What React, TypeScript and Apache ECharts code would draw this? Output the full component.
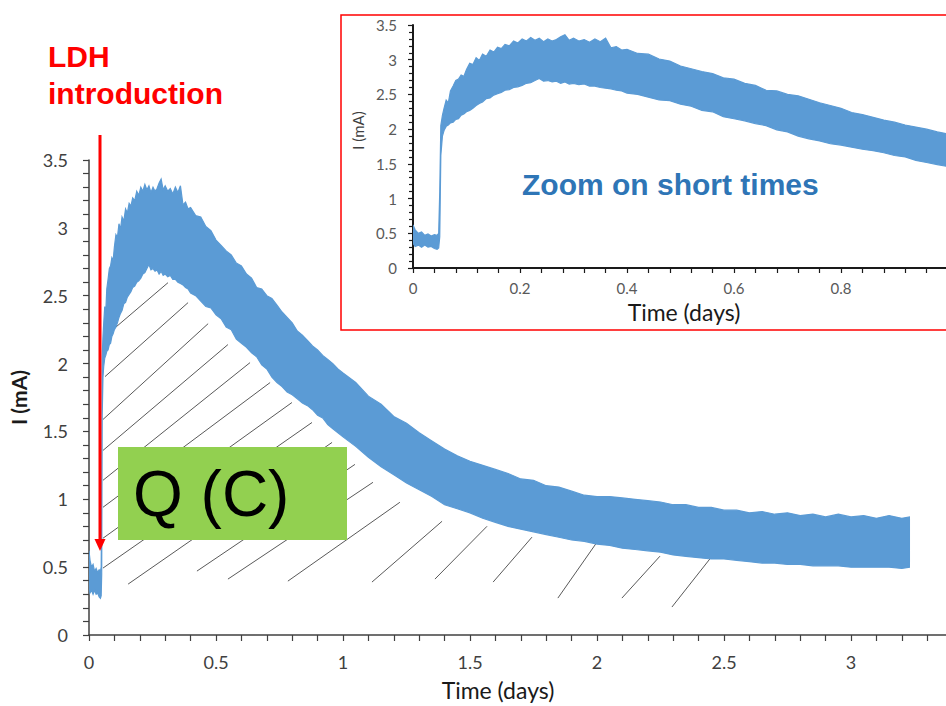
import React, { useEffect, useRef } from "react";
import * as echarts from "echarts";

// Time (days) samples shared by the upper and lower envelope of the noisy current band
const timeDays = [
  0, 0.004, 0.01, 0.016, 0.022, 0.028, 0.034, 0.04, 0.045, 0.048, 0.05, 0.052, 0.055, 0.058,
  0.062, 0.066, 0.07, 0.075, 0.08, 0.085, 0.09, 0.095, 0.1, 0.106, 0.112, 0.118, 0.124, 0.13,
  0.137, 0.144, 0.151, 0.158, 0.165, 0.172, 0.18, 0.188, 0.196, 0.204, 0.212, 0.22, 0.228,
  0.236, 0.244, 0.252, 0.26, 0.268, 0.276, 0.284, 0.292, 0.3, 0.31, 0.32, 0.33, 0.34, 0.35,
  0.36, 0.37, 0.38, 0.39, 0.4, 0.42, 0.44, 0.46, 0.48, 0.5, 0.52, 0.54, 0.56, 0.58, 0.6,
  0.62, 0.64, 0.66, 0.68, 0.7, 0.72, 0.74, 0.76, 0.78, 0.8, 0.82, 0.84, 0.86, 0.88, 0.9,
  0.92, 0.94, 0.96, 0.98, 1.0, 1.05, 1.1, 1.15, 1.2, 1.25, 1.3, 1.35, 1.4, 1.45, 1.5, 1.55,
  1.6, 1.65, 1.7, 1.75, 1.8, 1.85, 1.9, 1.95, 2.0, 2.05, 2.1, 2.15, 2.2, 2.25, 2.3, 2.35,
  2.4, 2.45, 2.5, 2.55, 2.6, 2.65, 2.7, 2.75, 2.8, 2.85, 2.9, 2.95, 3.0, 3.05, 3.1, 3.15,
  3.2, 3.23,
];

// Upper edge of the current band I (mA)
const currentUpper = [
  0.62, 0.55, 0.5, 0.52, 0.47, 0.49, 0.46, 0.48, 0.47, 0.5, 1.1, 2.05, 2.2, 2.3,
  2.42, 2.38, 2.55, 2.62, 2.7, 2.72, 2.78, 2.76, 2.86, 2.95, 2.93, 3.03, 2.99, 3.08,
  3.05, 3.14, 3.11, 3.18, 3.16, 3.22, 3.2, 3.27, 3.24, 3.3, 3.27, 3.32, 3.28,
  3.31, 3.26, 3.3, 3.27, 3.29, 3.33, 3.36, 3.28, 3.31, 3.27, 3.29, 3.25, 3.3, 3.26,
  3.31, 3.17, 3.19, 3.14, 3.15, 3.09, 3.08, 3.01, 2.98, 2.91, 2.87, 2.83, 2.8, 2.74, 2.72,
  2.66, 2.63, 2.56, 2.55, 2.5, 2.48, 2.43, 2.38, 2.34, 2.3, 2.24, 2.21, 2.17, 2.13, 2.1,
  2.06, 2.03, 2.0, 1.96, 1.93, 1.86, 1.76, 1.7, 1.61, 1.56, 1.49, 1.43, 1.37, 1.32, 1.28, 1.25,
  1.22, 1.19, 1.15, 1.14, 1.1, 1.09, 1.06, 1.03, 1.02, 1.02, 1.01, 1.0, 0.99, 0.98, 0.96, 0.96,
  0.94, 0.94, 0.92, 0.92, 0.9, 0.91, 0.89, 0.9, 0.88, 0.89, 0.87, 0.89, 0.87, 0.88, 0.86, 0.88,
  0.86, 0.87,
];

// Lower edge of the current band I (mA)
const currentLower = [
  0.36, 0.31, 0.33, 0.3, 0.33, 0.3, 0.31, 0.28, 0.27, 0.29, 0.45, 1.62, 1.9, 1.98,
  2.04, 2.06, 2.09, 2.1, 2.14, 2.15, 2.2, 2.22, 2.25, 2.27, 2.3, 2.34, 2.37, 2.39,
  2.44, 2.45, 2.49, 2.51, 2.53, 2.56, 2.57, 2.6, 2.61, 2.63, 2.66, 2.67, 2.7,
  2.73, 2.69, 2.7, 2.68, 2.69, 2.66, 2.68, 2.65, 2.66, 2.64, 2.65, 2.62, 2.62, 2.6,
  2.59, 2.58, 2.56, 2.55, 2.52, 2.5, 2.46, 2.42, 2.41, 2.36, 2.33, 2.27, 2.25, 2.18, 2.15,
  2.12, 2.08, 2.05, 1.99, 1.96, 1.9, 1.86, 1.83, 1.79, 1.77, 1.74, 1.71, 1.69, 1.66, 1.62,
  1.6, 1.55, 1.52, 1.49, 1.46, 1.39, 1.31, 1.24, 1.18, 1.12, 1.07, 1.02, 0.96, 0.93, 0.9, 0.86,
  0.83, 0.8, 0.78, 0.76, 0.74, 0.72, 0.7, 0.69, 0.67, 0.66, 0.64, 0.63, 0.62, 0.61, 0.59, 0.58,
  0.57, 0.56, 0.56, 0.55, 0.54, 0.53, 0.53, 0.52, 0.52, 0.51, 0.51, 0.51, 0.5, 0.5, 0.5, 0.5,
  0.49, 0.5,
];

// Hatching of the charge area Q: segments [t1, I1, t2, I2]
const hatchSegments = [
  [0.094, 2.25, 0.311, 2.596],
  [0.063, 1.904, 0.39, 2.449],
  [0.055, 1.588, 0.469, 2.294],
  [0.055, 1.36, 0.547, 2.14],
  [0.055, 1.14, 0.634, 2.007],
  [0.055, 0.941, 0.713, 1.86],
  [0.055, 0.713, 0.799, 1.713],
  [0.055, 0.493, 0.878, 1.566],
  [0.154, 0.375, 0.957, 1.419],
  [0.425, 0.471, 1.047, 1.257],
  [0.547, 0.412, 1.118, 1.125],
  [0.783, 0.397, 1.224, 0.978],
  [1.114, 0.39, 1.39, 0.838],
  [1.362, 0.412, 1.567, 0.801],
  [1.591, 0.39, 1.744, 0.721],
  [1.846, 0.272, 2.0, 0.684],
  [2.098, 0.272, 2.248, 0.581],
  [2.295, 0.206, 2.453, 0.581],
];

const BLUE = "#5B9BD5";

function bandRender(_params: any, api: any) {
  const pts: number[][] = [];
  for (let i = 0; i < timeDays.length; i++) pts.push(api.coord([timeDays[i], currentUpper[i]]));
  for (let i = timeDays.length - 1; i >= 0; i--) pts.push(api.coord([timeDays[i], currentLower[i]]));
  return {
    type: "polygon",
    shape: { points: pts },
    style: { fill: BLUE, stroke: BLUE, lineWidth: 1.2 },
  };
}

function hatchRender(_params: any, api: any) {
  const p1 = api.coord([api.value(0), api.value(1)]);
  const p2 = api.coord([api.value(2), api.value(3)]);
  return {
    type: "line",
    shape: { x1: p1[0], y1: p1[1], x2: p2[0], y2: p2[1] },
    style: { stroke: "#595959", lineWidth: 1 },
  };
}

export default function App() {
  const ref = useRef<HTMLDivElement>(null);
  useEffect(() => {
    if (!ref.current) return;
    const chart = echarts.init(ref.current, null, { renderer: "svg" });
    const axisColor = "#404040";
    const mainFont = "Lato";
    chart.setOption({
      animation: false,
      backgroundColor: "#ffffff",
      grid: [
        { left: 89, top: 160, width: 889, height: 476 },
        { left: 413, top: 25, width: 535, height: 243 },
      ],
      xAxis: [
        {
          type: "value",
          gridIndex: 0,
          min: 0,
          max: 3.5,
          interval: 0.5,
          axisLine: { show: true, onZero: false, lineStyle: { color: axisColor, width: 1.5 } },
          axisTick: { show: true, length: 6, lineStyle: { color: axisColor, width: 1.2 } },
          minorTick: { show: true, splitNumber: 5, length: 6, lineStyle: { color: axisColor, width: 1.2 } },
          splitLine: { show: false },
          axisLabel: { color: axisColor, fontSize: 18, fontFamily: mainFont, margin: 18, showMaxLabel: false },
          name: "Time (days)",
          nameLocation: "middle",
          nameGap: 43,
          nameTextStyle: { color: "#1a1a1a", fontSize: 23, fontFamily: mainFont, padding: [0, 71, 0, 0] },
        },
        {
          type: "value",
          gridIndex: 1,
          min: 0,
          max: 1,
          interval: 0.2,
          axisLine: { show: true, onZero: false, lineStyle: { color: "#1a1a1a", width: 2 } },
          axisTick: { show: true, length: 5, lineStyle: { color: "#1a1a1a", width: 1.2 } },
          minorTick: { show: true, splitNumber: 5, length: 5, lineStyle: { color: "#1a1a1a", width: 1.2 } },
          splitLine: { show: false },
          axisLabel: { color: "#595959", fontSize: 15, fontFamily: mainFont, margin: 12, showMaxLabel: false },
          name: "Time (days)",
          nameLocation: "middle",
          nameGap: 32,
          nameTextStyle: { color: "#1a1a1a", fontSize: 23, fontFamily: mainFont, padding: [0, 0, 0, 7] },
        },
      ],
      yAxis: [
        {
          type: "value",
          gridIndex: 0,
          min: 0,
          max: 3.5,
          interval: 0.5,
          axisLine: { show: true, onZero: false, lineStyle: { color: axisColor, width: 1.5 } },
          axisTick: { show: true, length: 6, lineStyle: { color: axisColor, width: 1.2 } },
          minorTick: { show: true, splitNumber: 5, length: 6, lineStyle: { color: axisColor, width: 1.2 } },
          splitLine: { show: false },
          axisLabel: { color: axisColor, fontSize: 18, fontFamily: mainFont, margin: 21 },
          name: "I (mA)",
          nameLocation: "middle",
          nameGap: 60,
          nameTextStyle: { color: "#1a1a1a", fontSize: 21, fontWeight: "bold", fontFamily: mainFont },
        },
        {
          type: "value",
          gridIndex: 1,
          min: 0,
          max: 3.5,
          interval: 0.5,
          axisLine: { show: true, onZero: false, lineStyle: { color: "#1a1a1a", width: 2 } },
          axisTick: { show: true, length: 5, lineStyle: { color: "#1a1a1a", width: 1.2 } },
          minorTick: { show: true, splitNumber: 5, length: 4, lineStyle: { color: "#1a1a1a", width: 1.2 } },
          splitLine: { show: false },
          axisLabel: { color: "#595959", fontSize: 15, fontFamily: mainFont, margin: 16 },
          name: "I (mA)",
          nameLocation: "middle",
          nameGap: 48,
          nameTextStyle: { color: "#404040", fontSize: 15, fontFamily: mainFont, padding: [0, 0, 0, 32] },
        },
      ],
      series: [
        {
          type: "custom",
          name: "hatch",
          xAxisIndex: 0,
          yAxisIndex: 0,
          clip: true,
          z: 2,
          encode: { x: [0, 2], y: [1, 3] },
          data: hatchSegments,
          renderItem: hatchRender,
        },
        {
          type: "custom",
          name: "I main",
          xAxisIndex: 0,
          yAxisIndex: 0,
          clip: true,
          z: 3,
          encode: { x: 0, y: 1 },
          data: [[timeDays[0], currentLower[0]]],
          renderItem: bandRender,
        },
        {
          type: "custom",
          name: "I zoom",
          xAxisIndex: 1,
          yAxisIndex: 1,
          clip: true,
          z: 3,
          encode: { x: 0, y: 1 },
          data: [[timeDays[0], currentLower[0]]],
          renderItem: bandRender,
        },
      ],
      graphic: [
        {
          type: "rect",
          z: 50,
          shape: { x: 341, y: 15, width: 620, height: 315 },
          style: { fill: "none", stroke: "#FF0000", lineWidth: 1.5 },
        },
        {
          type: "rect",
          z: 50,
          shape: { x: 118, y: 447, width: 229, height: 93 },
          style: { fill: "#92D050" },
        },
        {
          type: "text",
          z: 51,
          x: 133,
          y: 494,
          style: {
            text: "Q (C)",
            font: '64px "Liberation Sans", Arial, sans-serif',
            fill: "#000000",
            verticalAlign: "middle",
            align: "left",
          },
        },
        {
          type: "text",
          z: 51,
          x: 48,
          y: 56,
          style: {
            text: "LDH",
            font: 'bold 30px "Liberation Sans", Arial, sans-serif',
            fill: "#FF0000",
            verticalAlign: "middle",
          },
        },
        {
          type: "text",
          z: 51,
          x: 48,
          y: 93,
          style: {
            text: "introduction",
            font: 'bold 30px "Liberation Sans", Arial, sans-serif',
            fill: "#FF0000",
            verticalAlign: "middle",
          },
        },
        {
          type: "line",
          z: 52,
          shape: { x1: 100, y1: 135, x2: 100, y2: 541 },
          style: { stroke: "#FF0000", lineWidth: 3 },
        },
        {
          type: "polygon",
          z: 52,
          shape: { points: [[94.5, 539], [105.5, 539], [100, 551]] },
          style: { fill: "#FF0000" },
        },
        {
          type: "text",
          z: 51,
          x: 522,
          y: 184,
          style: {
            text: "Zoom on short times",
            font: 'bold 30px "Liberation Sans", Arial, sans-serif',
            fill: "#2E75B6",
            verticalAlign: "middle",
          },
        },
      ],
    });
    return () => chart.dispose();
  }, []);
  return (
    <div
      style={{
        position: "absolute",
        left: 0,
        top: 0,
        width: 946,
        height: 706,
        overflow: "hidden",
        background: "#ffffff",
      }}
    >
      <div ref={ref} style={{ width: 1000, height: 706 }} />
    </div>
  );
}
